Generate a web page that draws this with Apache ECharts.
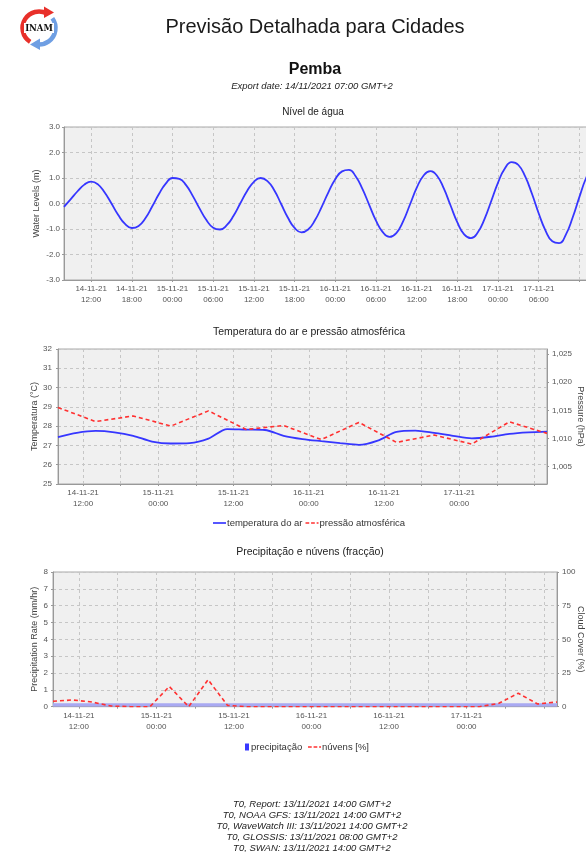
<!DOCTYPE html>
<html>
<head>
<meta charset="utf-8">
<script src="https://cdn.jsdelivr.net/npm/echarts@6/dist/echarts.min.js"></script>
<style>
html,body{margin:0;padding:0;background:#fff;}
#c{width:586px;height:852px;}
</style>
</head>
<body>
<div id="c"></div>
<script>
// ---- categories (hourly, 14-11-21 08:00 .. 17-11-21 14:00) ----
const hours = [
 "14-11-21 08:00","14-11-21 09:00","14-11-21 10:00","14-11-21 11:00","14-11-21 12:00","14-11-21 13:00","14-11-21 14:00","14-11-21 15:00",
 "14-11-21 16:00","14-11-21 17:00","14-11-21 18:00","14-11-21 19:00","14-11-21 20:00","14-11-21 21:00","14-11-21 22:00","14-11-21 23:00",
 "15-11-21 00:00","15-11-21 01:00","15-11-21 02:00","15-11-21 03:00","15-11-21 04:00","15-11-21 05:00","15-11-21 06:00","15-11-21 07:00",
 "15-11-21 08:00","15-11-21 09:00","15-11-21 10:00","15-11-21 11:00","15-11-21 12:00","15-11-21 13:00","15-11-21 14:00","15-11-21 15:00",
 "15-11-21 16:00","15-11-21 17:00","15-11-21 18:00","15-11-21 19:00","15-11-21 20:00","15-11-21 21:00","15-11-21 22:00","15-11-21 23:00",
 "16-11-21 00:00","16-11-21 01:00","16-11-21 02:00","16-11-21 03:00","16-11-21 04:00","16-11-21 05:00","16-11-21 06:00","16-11-21 07:00",
 "16-11-21 08:00","16-11-21 09:00","16-11-21 10:00","16-11-21 11:00","16-11-21 12:00","16-11-21 13:00","16-11-21 14:00","16-11-21 15:00",
 "16-11-21 16:00","16-11-21 17:00","16-11-21 18:00","16-11-21 19:00","16-11-21 20:00","16-11-21 21:00","16-11-21 22:00","16-11-21 23:00",
 "17-11-21 00:00","17-11-21 01:00","17-11-21 02:00","17-11-21 03:00","17-11-21 04:00","17-11-21 05:00","17-11-21 06:00","17-11-21 07:00",
 "17-11-21 08:00","17-11-21 09:00","17-11-21 10:00","17-11-21 11:00","17-11-21 12:00","17-11-21 13:00","17-11-21 14:00"
];

// ---- water level (m), hourly ----
const waterLevel = [
 -0.13,0.17,0.48,0.74,0.86,0.75,0.43,0.00,-0.45,-0.80,-0.96,-0.88,-0.58,-0.12,0.37,0.78,
 1.00,0.97,0.72,0.29,-0.20,-0.65,-0.95,-1.02,-0.85,-0.48,0.01,0.49,0.85,1.00,0.88,0.52,
 -0.01,-0.55,-0.96,-1.13,-1.02,-0.66,-0.13,0.45,0.95,1.26,1.32,1.07,0.57,-0.05,-0.67,-1.12,
 -1.31,-1.16,-0.70,-0.05,0.61,1.09,1.27,1.09,0.59,-0.08,-0.74,-1.21,-1.36,-1.14,-0.61,0.10,
 0.82,1.37,1.62,1.51,1.06,0.38,-0.39,-1.06,-1.48,-1.55,-1.22,-0.55,0.26,1.01,1.50
];

// ---- air temperature (°C), every 3 h from 14-11 08:00 ----
const airTemp = [27.43,27.65,27.75,27.68,27.5,27.2,27.1,27.12,27.35,27.85,27.82,27.8,27.5,27.33,
 27.22,27.12,27.03,27.25,27.7,27.77,27.65,27.5,27.37,27.45,27.6,27.68,27.72];

// ---- atmospheric pressure (hPa), every 6 h from 14-11 08:00 ----
const pressure = [1015.5,1013.0,1014.0,1012.2,1014.9,1011.6,1012.3,1009.8,1012.85,1009.3,1010.6,1009.0,1012.95,1010.9];

// ---- precipitation (mm/hr) and cloud cover (%), every 3 h ----
const precip = [0.2,0.2,0.2,0.2,0.2,0.2,0.2,0.2,0.2,0.2,0.2,0.2,0.2,0.2,0.2,0.2,0.2,0.2,0.2,0.2,0.2,0.2,0.2,0.2,0.2,0.2,0.2];
const cloud = [4,5,3.5,0.5,0,0,15,0,20,1,0,0,0,0,0,0,0,0,0,0,0,0,0,2.5,10,2,3.5];

// ---- tick labels ----
const pressTicks = [1005,1010,1015,1020,1025];

const footer = [
 "T0, Report: 13/11/2021 14:00 GMT+2",
 "T0, NOAA GFS: 13/11/2021 14:00 GMT+2",
 "T0, WaveWatch III: 13/11/2021 14:00 GMT+2",
 "T0, GLOSSIS: 13/11/2021 08:00 GMT+2",
 "T0, SWAN: 13/11/2021 14:00 GMT+2"
];

// expand sparse series onto the hourly axis
function spread(arr, step){
  const out = hours.map(()=>null);
  arr.forEach((v,i)=>{ out[i*step] = v; });
  return out;
}

const FONT = 'Liberation Sans, Arial, sans-serif';
const hourOf = v => +v.slice(9,11);
const BLUE = '#3636ff', RED = '#ff3030';

function xAx(gridIndex, labelFn, gridFn){
  return {
    type:'category', gridIndex, data:hours, boundaryGap:false,
    axisLine:{show:true, onZero:false, lineStyle:{color:'#999'}},
    axisTick:{show:true, length:2, interval:(i,v)=>gridFn(v), lineStyle:{color:'#999'}},
    axisLabel:{interval:(i,v)=>labelFn(v,i), formatter:v=>v.replace(' ','\n'),
      fontSize:8, color:'#555', fontFamily:FONT, lineHeight:10.5, margin:4},
    splitLine:{show:true, interval:(i,v)=>gridFn(v), lineStyle:{color:'#c6c6c6', type:[3,3], width:1}}
  };
}
function yAx(gridIndex, o){
  return Object.assign({
    type:'value', gridIndex,
    axisLine:{show:true, lineStyle:{color:'#999'}},
    axisTick:{show:true, length:2, lineStyle:{color:'#999'}},
    axisLabel:{fontSize:8, color:'#555', fontFamily:FONT, margin:4},
    splitLine:{show:true, lineStyle:{color:'#c6c6c6', type:[3,3], width:1}},
    nameLocation:'middle', nameRotate:90, nameMoveOverlap:false,
    nameTextStyle:{fontSize:9, color:'#444', fontFamily:FONT}
  }, o);
}

const texts = [
  {t:'Previsão Detalhada para Cidades', x:315, y:27, f:'20px '+FONT, c:'#1a1a1a'},
  {t:'Pemba', x:315, y:70, f:'bold 16px '+FONT, c:'#111'},
  {t:'Export date: 14/11/2021 07:00 GMT+2', x:312, y:86, f:'italic 9.5px '+FONT, c:'#222'},
  {t:'Nível de água', x:313, y:112, f:'10px '+FONT, c:'#222'},
  {t:'Temperatura do ar e pressão atmosférica', x:309, y:332, f:'10.5px '+FONT, c:'#222'},
  {t:'Precipitação e núvens (fracção)', x:310, y:552, f:'10.5px '+FONT, c:'#222'}
];
footer.forEach((t,i)=>texts.push({t, x:312, y:804+11*i, f:'italic 9.5px '+FONT, c:'#222'}));

const graphic = texts.map(o=>({type:'text', x:o.x, y:o.y, style:{text:o.t, font:o.f, fill:o.c, align:'center', verticalAlign:'middle'}}));
// logo
graphic.push(
  {type:'arc', shape:{cx:39, cy:28, r:16.5, startAngle:Math.PI*0.68, endAngle:Math.PI*1.66, clockwise:true}, style:{stroke:'#e8302a', lineWidth:4.5, fill:null}},
  {type:'polygon', shape:{points:[[44,6.5],[54,12.5],[44,18]]}, style:{fill:'#e8302a'}},
  {type:'arc', shape:{cx:39, cy:28, r:16.5, startAngle:-Math.PI*0.2, endAngle:Math.PI*0.52, clockwise:true}, style:{stroke:'#6f9fe3', lineWidth:4.5, fill:null}},
  {type:'polygon', shape:{points:[[40,38.5],[30,44.5],[40,50]]}, style:{fill:'#6f9fe3'}},
  {type:'rect', shape:{x:24, y:23, width:30, height:10}, style:{fill:'#fff'}},
  {type:'text', x:39, y:28.5, style:{text:'INAM', font:'bold 8.5px DejaVu Serif, serif', fill:'#111', align:'center', verticalAlign:'middle'}}
);

const gridBase = {show:true, backgroundColor:'#f0f0f0', borderColor:'#a8a8a8', borderWidth:1, containLabel:false, outerBoundsMode:'none'};
const ICON_SOLID = 'path://M0 0H14V1.8H0Z';
const ICON_DASH = 'path://M0 0H4V1.8H0Z M6 0H10V1.8H6Z M12 0H14V1.8H12Z';
const legText = {fontSize:9.5, color:'#333', fontFamily:FONT, padding:[0,0,0,-4]};

const option = {
  animation:false,
  textStyle:{fontFamily:FONT},
  graphic,
  grid:[
    Object.assign({left:64, top:127, height:153, right:-7}, gridBase),
    Object.assign({left:58, top:349, height:135, right:39}, gridBase),
    Object.assign({left:53, top:572, height:134.7, right:29}, gridBase)
  ],
  legend:[
    {top:513, left:208, itemWidth:13, itemHeight:2, itemGap:3,
     data:[{name:'temperatura do ar', icon:ICON_SOLID},{name:'pressão atmosférica', icon:ICON_DASH}],
     textStyle:legText},
    {top:737, left:240, itemWidth:4, itemHeight:7,
     data:[{name:'precipitação', icon:'rect'}],
     textStyle:{fontSize:9.5, color:'#333', fontFamily:FONT, padding:[0,0,0,-3]}},
    {top:737, left:303, itemWidth:13, itemHeight:2,
     data:[{name:'núvens [%]', icon:ICON_DASH}],
     textStyle:legText}
  ],
  xAxis:[
    xAx(0, (v,i)=>hourOf(v)%6===0 && i<76, v=>hourOf(v)%6===0),
    xAx(1, (v,i)=>hourOf(v)%12===0 && i<76, v=>hourOf(v)%6===0),
    xAx(2, (v,i)=>hourOf(v)%12===0 && i<76, v=>hourOf(v)%6===0)
  ],
  yAxis:[
    yAx(0, {min:-3, max:3, interval:1, name:'Water Levels (m)', nameGap:23,
      axisLabel:{fontSize:8, color:'#555', fontFamily:FONT, margin:4, formatter:v=>v.toFixed(1)}}),
    yAx(1, {min:25, max:32, interval:1, name:'Temperatura (°C)', nameGap:19,
      axisLabel:{fontSize:8, color:'#555', fontFamily:FONT, margin:6}}),
    yAx(1, {position:'right', min:1001.9, max:1025.9, name:'Pressure (hPa)', nameGap:29, nameRotate:-90,
      splitLine:{show:false},
      axisTick:{show:true, length:2, lineStyle:{color:'#999'}, customValues:pressTicks},
      axisLabel:{fontSize:8, color:'#555', fontFamily:FONT, margin:5, customValues:pressTicks,
        formatter:v=>{const s=String(Math.round(v)); return s.slice(0,1)+','+s.slice(1);}}}),
    yAx(2, {min:0, max:8, interval:1, name:'Precipitation Rate (mm/hr)', nameGap:14,
      axisLabel:{fontSize:8, color:'#555', fontFamily:FONT, margin:5}}),
    yAx(2, {position:'right', min:0, max:100, interval:25, name:'Cloud Cover (%)', nameGap:19, nameRotate:-90,
      splitLine:{show:false},
      axisLabel:{fontSize:8, color:'#555', fontFamily:FONT, margin:5}})
  ],
  series:[
    {name:'Nível', type:'line', xAxisIndex:0, yAxisIndex:0, data:waterLevel, smooth:true, symbol:'none',
     lineStyle:{color:BLUE, width:1.8}, itemStyle:{color:BLUE}},
    {name:'temperatura do ar', type:'line', xAxisIndex:1, yAxisIndex:1, data:spread(airTemp,3), connectNulls:true, smooth:0.3, symbol:'none',
     lineStyle:{color:BLUE, width:1.8}, itemStyle:{color:BLUE}},
    {name:'pressão atmosférica', type:'line', xAxisIndex:1, yAxisIndex:2, data:spread(pressure,6), connectNulls:true, symbol:'none',
     lineStyle:{color:RED, width:1.6, type:[4,3]}, itemStyle:{color:RED}},
    {name:'precipitação', type:'line', xAxisIndex:2, yAxisIndex:3, data:spread(precip,3), connectNulls:true, symbol:'none',
     lineStyle:{width:0, color:'#3838ff'}, itemStyle:{color:'#3838ff'}, areaStyle:{color:'#a9a9f2', opacity:1}},
    {name:'núvens [%]', type:'line', xAxisIndex:2, yAxisIndex:4, data:spread(cloud,3), connectNulls:true, symbol:'none',
     lineStyle:{color:RED, width:1.6, type:[4,3]}, itemStyle:{color:RED}}
  ]
};

const chart = echarts.init(document.getElementById('c'), null, {renderer:'canvas'});
chart.setOption(option);
</script>
</body>
</html>
